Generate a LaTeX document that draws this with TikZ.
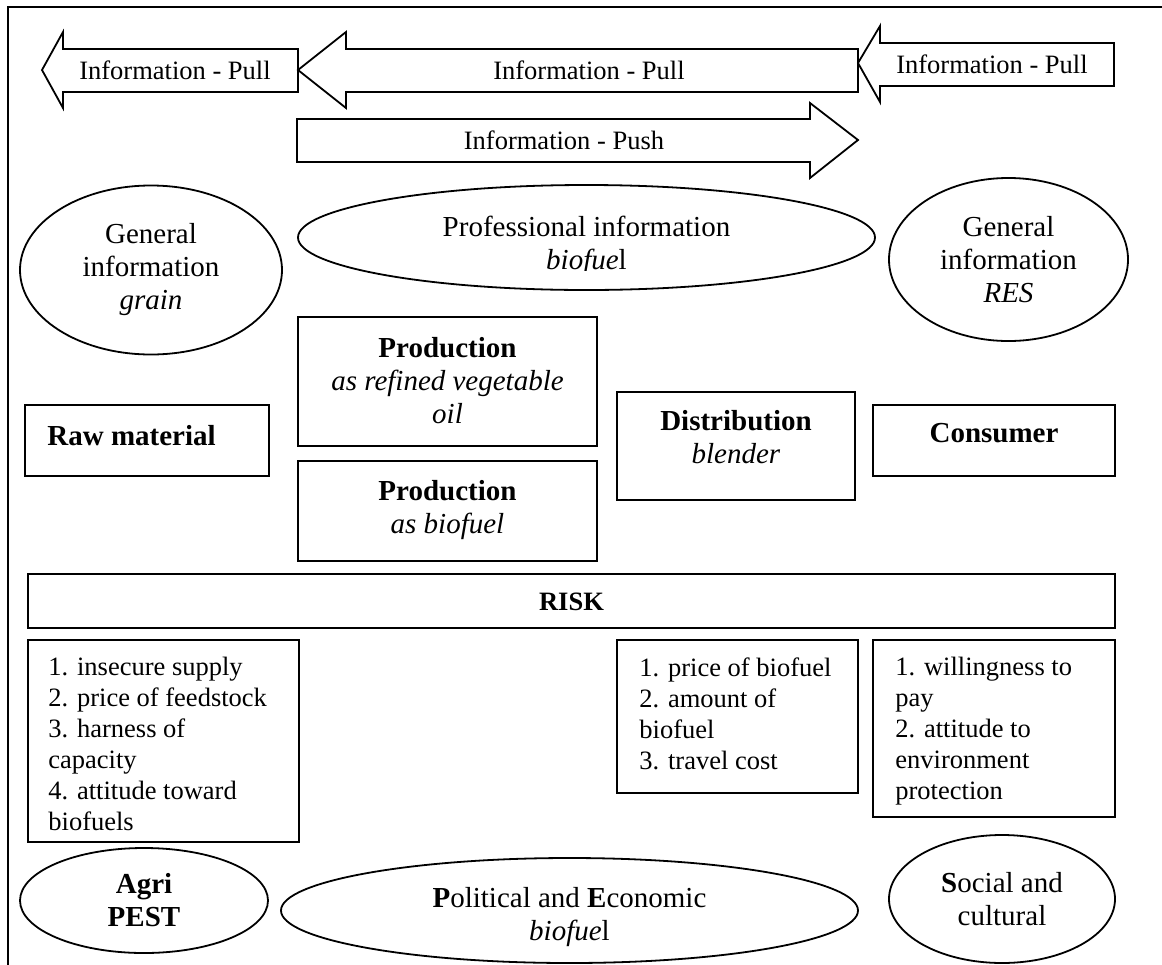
\documentclass[tikz,border=0pt]{standalone}
\usepackage{fontspec}
\setmainfont{Liberation Serif}
\usepackage{tikz}
\usetikzlibrary{shapes.geometric, positioning, fit}
\newcommand{\arrowfont}{\fontsize{13.25}{15.5}\selectfont}
\newcommand{\ovalfont}{\fontsize{14.5}{16.5}\selectfont}
\newcommand{\listfont}{\fontsize{13.25}{15.5}\selectfont}
\tikzset{
    frame/.style={line width=0.9pt},
    bigarrow/.style={draw=black, line width=0.9pt, line join=miter},
    arrowtext/.style={inner sep=0pt, font=\arrowfont},
    box/.style={rectangle, draw=black, line width=0.9pt, inner sep=0pt, outer sep=0pt},
    oval/.style={ellipse, draw=black, line width=0.9pt, inner sep=0pt, align=center, font=\ovalfont},
    txt/.style={inner sep=0pt, align=center, font=\ovalfont},
    listtext/.style={inner sep=0pt, align=left, font=\listfont}
}

\begin{document}
\begin{tikzpicture}[x=0.5pt, y=-0.5pt]
    \clip (0,0) rectangle (1162,964);
    % outer frame (cut off at right and bottom)
    \draw [frame] (8,1000) -- (8,7) -- (1200,7);

    % Information arrows
    \draw [bigarrow] (42,70) -- (63,32) -- (63,49) -- (298,49) -- (298,92) -- (63,92) -- (63,108) -- cycle;
    \node (pullLeft) [arrowtext] at (175,70) {Information - Pull};
    \draw [bigarrow] (298,70) -- (346,32) -- (346,49) -- (858,49) -- (858,92) -- (346,92) -- (346,108) -- cycle;
    \node (pullMid) [arrowtext] at (589,70) {Information - Pull};
    \draw [bigarrow] (858,63) -- (880,26) -- (880,43) -- (1114,43) -- (1114,86) -- (880,86) -- (880,102) -- cycle;
    \node (pullRight) [arrowtext] at (992,64) {Information - Pull};
    \draw [bigarrow] (297,119) -- (810,119) -- (810,103) -- (858,140) -- (810,178) -- (810,162) -- (297,162) -- cycle;
    \node (push) [arrowtext] at (564,140) {Information - Push};

    % Information sources
    \node (grain) [oval, minimum width=131pt, minimum height=84.5pt] at (151,270) {General\\information\\\textit{grain}};
    \node (prof) [oval, minimum width=288.5pt, minimum height=52.5pt] at (586.5,237.5) {};
    \begin{scope}
        \clip (0,0) rectangle (1162,270);
        \node (profText) [txt, below=16pt of prof.north] {Professional information\\\textit{biofue}l};
    \end{scope}
    \node (res) [oval, minimum width=119.5pt, minimum height=81.5pt] at (1008.5,259.5) {General\\information\\\textit{RES}};

    % Supply chain
    \node (raw) [box, fit={(25,405) (269,476)}] {};
    \node (rawText) [txt, below right=10pt and 11pt of raw.north west] {\textbf{Raw material}};
    \node (prodOil) [box, fit={(298,317) (597,446)}] {};
    \node (prodOilText) [txt, below=10pt of prodOil.north] {\textbf{Production}\\\textit{as refined vegetable}\\\textit{oil}};
    \node (prodFuel) [box, fit={(298,461) (597,561)}] {};
    \node (prodFuelText) [txt, below=9.5pt of prodFuel.north] {\textbf{Production}\\\textit{as biofuel}};
    \node (dist) [box, fit={(617,392) (855,500)}] {};
    \node (distText) [txt, below=9pt of dist.north] {\textbf{Distribution}\\\textit{blender}};
    \node (cons) [box, fit={(873,405) (1115,476)}] {};
    \node (consText) [txt, below=9pt of cons.north] {\textbf{Consumer}};

    % Risk
    \node (risk) [box, fit={(28,574) (1115,628)}] {};
    \node (riskText) [arrowtext, below=9.5pt of risk.north] {\textbf{RISK}};
    \node (riskRaw) [box, fit={(28,640) (299,842)}] {};
    \node (riskRawText) [listtext, below right=8.5pt and 10pt of riskRaw.north west] {1. insecure supply\\2. price of feedstock\\3. harness of\\capacity\\4. attitude toward\\biofuels};
    \node (riskDist) [box, fit={(617,640) (858,793)}] {};
    \node (riskDistText) [listtext, below right=8.5pt and 11pt of riskDist.north west] {1. price of biofuel\\2. amount of\\biofuel\\3. travel cost};
    \node (riskCons) [box, fit={(873,640) (1115,817)}] {};
    \node (riskConsText) [listtext, below right=8.5pt and 11pt of riskCons.north west] {1. willingness to\\pay\\2. attitude to\\environment\\protection};

    % PEST
    \node (agri) [oval, minimum width=124pt, minimum height=52.5pt] at (144,900.5) {\textbf{Agri}\\\textbf{PEST}};
    \node (pol) [oval, minimum width=288.5pt, minimum height=52.5pt] at (569.5,910.5) {};
    \node (polText) [txt, below=15pt of pol.north] {\textbf{P}olitical and \textbf{E}conomic\\\textit{biofue}l};
    \node (social) [oval, minimum width=113pt, minimum height=64pt] at (1002,899) {\textbf{S}ocial and\\cultural};
\end{tikzpicture}
\end{document}
